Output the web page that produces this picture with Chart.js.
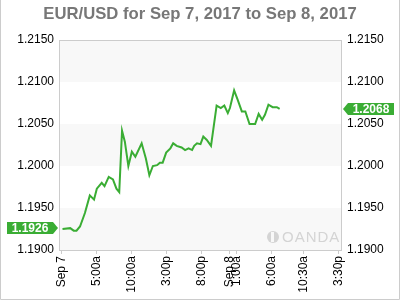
<!DOCTYPE html>
<html>
<head>
<meta charset="utf-8">
<title>EUR/USD</title>
<script src="https://cdn.jsdelivr.net/npm/chart.js@4/dist/chart.umd.min.js"></script>
<style>
    body { margin: 0; background: #fff; }
    canvas { display: block; }
</style>
</head>
<body>
<canvas id="rateChart" width="400" height="300"></canvas>
<script>
// hours since Sep 7 00:00 and the EUR/USD rate
const hours = [0.1, 1.2, 1.7, 2.1, 2.6, 3.3, 4.0, 4.6, 5.0, 5.7, 6.1, 6.7, 7.3, 7.8, 8.2,
    8.6, 9.0, 9.5, 10.0, 10.5, 11.4, 12.0, 12.5, 13.0, 13.6, 14.0, 14.4, 14.9, 15.5, 15.9,
    16.4, 17.1, 17.6, 18.1, 18.6, 18.9, 19.3, 19.8, 20.2, 20.7, 21.3, 22.1, 22.7, 23.2, 23.7,
    24.0, 24.6, 25.1, 25.7, 26.2, 26.8, 27.6, 28.1, 28.6, 29.0, 29.5, 30.1, 30.7, 31.1];
const rates = [1.1925, 1.1926, 1.1923, 1.1923, 1.1928, 1.1944, 1.1965, 1.1960, 1.1973, 1.1980,
    1.1976, 1.1987, 1.1984, 1.1973, 1.1969, 1.2042, 1.2029, 1.2000, 1.2017, 1.2011, 1.2027,
    1.2009, 1.1989, 1.2000, 1.2001, 1.2004, 1.2004, 1.2016, 1.2021, 1.2027, 1.2024, 1.2022,
    1.2019, 1.2021, 1.2019, 1.2024, 1.2027, 1.2026, 1.2035, 1.2031, 1.2024, 1.2072, 1.2069,
    1.2072, 1.2063, 1.2069, 1.2090, 1.2079, 1.2065, 1.2065, 1.2050, 1.2050, 1.2062, 1.2055,
    1.2061, 1.2073, 1.2070, 1.2070, 1.2068];

// x axis ticks (hours) and their labels
const tickHours = [0, 5, 10, 15, 20, 24, 25, 30, 34.5, 39.5];
const tickLabels = ['Sep 7', '5:00a', '10:00a', '3:00p', '8:00p', 'Sep 8', '1:00a', '6:00a', '10:30a', '3:30p'];

const openRate = 1.1926;
const lastRate = 1.2068;

const titleText = 'EUR/USD for Sep 7, 2017 to Sep 8, 2017';
const green = '#3aad34';
const frameColor = '#cccccc';

Chart.defaults.font.family = '"Liberation Sans", Arial, sans-serif';
Chart.defaults.font.size = 12;
Chart.defaults.color = '#000';

// background bands, frame, title, price tags and watermark
const decorations = {
    id: 'decorations',
    beforeDatasetsDraw(chart) {
        const { ctx, chartArea: a, scales } = chart;
        const y = scales.y;
        ctx.save();
        ctx.fillStyle = '#f8f8f8';
        const vals = y.ticks.map(t => t.value).sort((p, q) => p - q);
        for (let i = 0; i < vals.length - 1; i += 2) {
            const top = y.getPixelForValue(vals[i + 1]);
            const bot = y.getPixelForValue(vals[i]);
            ctx.fillRect(a.left, top, a.right - a.left, bot - top);
        }
        // watermark
        ctx.strokeStyle = '#d4d4d4';
        ctx.fillStyle = '#d4d4d4';
        ctx.lineWidth = 1.5;
        ctx.beginPath();
        ctx.arc(a.right - 69, a.bottom - 13, 6, 0, Math.PI * 2);
        ctx.fill();
        ctx.fillStyle = '#f8f8f8';
        ctx.fillRect(a.right - 71, a.bottom - 18, 3, 10);
        ctx.fillStyle = '#d4d4d4';
        ctx.font = '15px "Liberation Sans", Arial, sans-serif';
        ctx.textBaseline = 'middle';
        ctx.textAlign = 'left';
        ctx.letterSpacing = '1px';
        ctx.fillText('OANDA', a.right - 60, a.bottom - 12);
        ctx.restore();
    },
    afterDraw(chart) {
        const { ctx, chartArea: a, scales, width, height } = chart;
        const y = scales.y;
        ctx.save();
        // plot frame
        ctx.strokeStyle = frameColor;
        ctx.lineWidth = 1;
        ctx.strokeRect(a.left + 0.5, a.top + 0.5, a.right - a.left - 1, a.bottom - a.top);
        // outer border (left, right, bottom)
        ctx.beginPath();
        ctx.moveTo(0.5, 0);
        ctx.lineTo(0.5, height - 0.5);
        ctx.lineTo(width - 0.5, height - 0.5);
        ctx.lineTo(width - 0.5, 0);
        ctx.stroke();
        // title
        ctx.fillStyle = '#777';
        ctx.font = 'bold 16.7px "Liberation Sans", Arial, sans-serif';
        ctx.textAlign = 'center';
        ctx.textBaseline = 'alphabetic';
        ctx.fillText(titleText, width / 2, 18.5);
        // price tags
        ctx.font = 'bold 12px "Liberation Sans", Arial, sans-serif';
        ctx.textBaseline = 'middle';
        const tag = (value, tip, dir) => {
            const py = Math.round(y.getPixelForValue(value));
            const boxW = 46, h = 12, arrow = 5;
            const near = tip + dir * arrow;
            const far = near + dir * boxW;
            ctx.fillStyle = green;
            ctx.beginPath();
            ctx.moveTo(tip, py);
            ctx.lineTo(near, py - h / 2);
            ctx.lineTo(far, py - h / 2);
            ctx.lineTo(far, py + h / 2);
            ctx.lineTo(near, py + h / 2);
            ctx.closePath();
            ctx.fill();
            ctx.fillStyle = '#fff';
            ctx.textAlign = 'center';
            ctx.fillText(value.toFixed(4), (near + far) / 2, py + 0.5);
        };
        tag(openRate, a.left - 1, -1);
        tag(lastRate, a.right + 1, 1);
        ctx.restore();
    }
};

const yTicks = {
    stepSize: 0.005,
    padding: 5,
    callback: v => v.toFixed(4)
};

new Chart(document.getElementById('rateChart'), {
    type: 'line',
    data: {
        datasets: [{
            data: hours.map((h, i) => ({ x: h, y: rates[i] })),
            borderColor: green,
            borderWidth: 2,
            pointRadius: 0,
            tension: 0,
            fill: false
        }]
    },
    options: {
        responsive: false,
        animation: false,
        layout: { padding: { top: 40, left: 0, right: 0, bottom: 0 } },
        plugins: {
            legend: { display: false },
            title: { display: false },
            tooltip: { enabled: false }
        },
        scales: {
            x: {
                type: 'linear',
                min: -0.4,
                max: 40,
                afterFit: s => { s.height = 50; },
                afterBuildTicks: s => { s.ticks = tickHours.map(v => ({ value: v })); },
                ticks: {
                    autoSkip: false,
                    minRotation: 90,
                    maxRotation: 90,
                    padding: 2,
                    callback: v => tickLabels[tickHours.indexOf(v)] ?? ''
                },
                grid: {
                    drawOnChartArea: false,
                    drawTicks: true,
                    tickLength: 4,
                    tickColor: frameColor
                },
                border: { display: false }
            },
            y: {
                position: 'left',
                min: 1.19,
                max: 1.215,
                afterFit: s => { s.width = 59; },
                ticks: yTicks,
                grid: { display: false, drawTicks: false },
                border: { display: false }
            },
            y2: {
                position: 'right',
                min: 1.19,
                max: 1.215,
                afterFit: s => { s.width = 58; },
                ticks: yTicks,
                grid: { display: false, drawTicks: false },
                border: { display: false }
            }
        }
    },
    plugins: [decorations]
});
</script>
</body>
</html>
